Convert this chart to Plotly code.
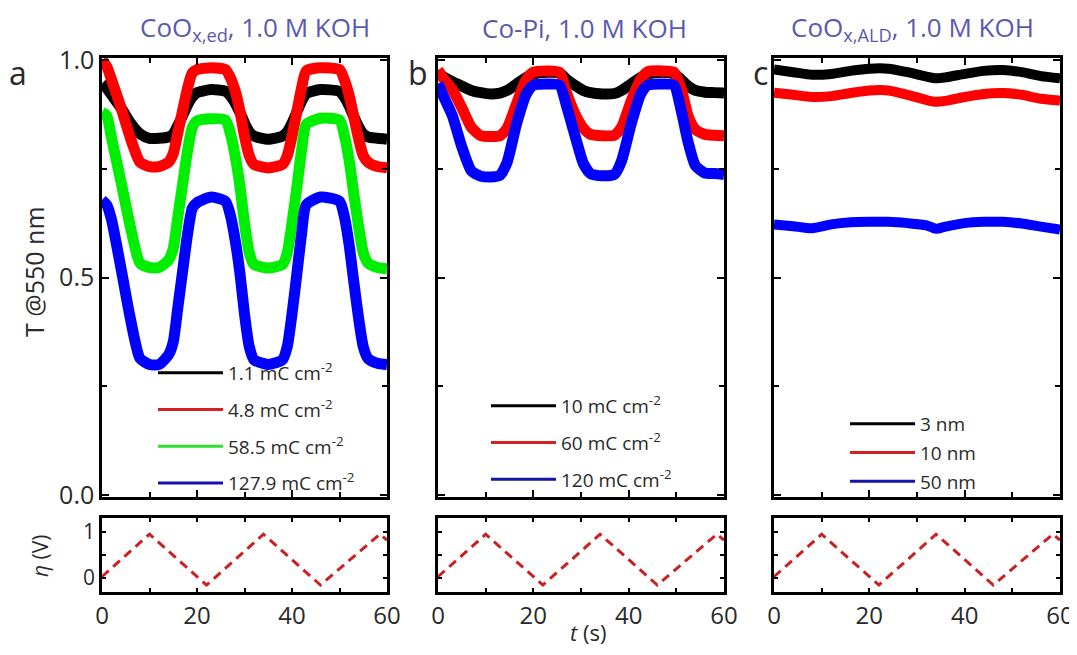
import plotly.graph_objects as go

# ---------------- data ----------------
# Panel a : CoOx,ed
t_a = [0, 1, 2, 4, 6, 8, 10, 12, 14, 15, 16, 17, 18, 19, 20, 23, 26, 27, 28, 29, 30,
       31, 32, 35, 38, 39, 40, 41, 42, 43, 46, 50, 51, 52, 53, 54, 55, 56, 58, 60]
a_1p1 = [0.946, 0.935, 0.92, 0.89, 0.855, 0.83, 0.82, 0.82, 0.823, 0.83, 0.85, 0.873, 0.897,
         0.915, 0.925, 0.932, 0.928, 0.918, 0.902, 0.88, 0.855, 0.835, 0.825, 0.818, 0.825,
         0.835, 0.855, 0.88, 0.905, 0.923, 0.932, 0.928, 0.915, 0.895, 0.87, 0.847, 0.83,
         0.823, 0.82, 0.818]
a_4p8 = [1.0, 0.985, 0.955, 0.89, 0.82, 0.765, 0.755, 0.755, 0.765, 0.785, 0.835, 0.885,
         0.935, 0.97, 0.978, 0.982, 0.978, 0.96, 0.93, 0.885, 0.825, 0.78, 0.76, 0.752, 0.76,
         0.78, 0.825, 0.88, 0.935, 0.975, 0.982, 0.978, 0.955, 0.92, 0.87, 0.82, 0.78, 0.765,
         0.755, 0.752]
a_58p5 = [0.88, 0.872, 0.821, 0.72, 0.615, 0.533, 0.523, 0.523, 0.54, 0.567, 0.642, 0.716,
          0.791, 0.845, 0.86, 0.865, 0.862, 0.832, 0.781, 0.713, 0.625, 0.557, 0.53, 0.522,
          0.53, 0.557, 0.625, 0.706, 0.791, 0.852, 0.866, 0.862, 0.828, 0.771, 0.693, 0.618,
          0.557, 0.533, 0.523, 0.52]
a_127p9 = [0.678, 0.667, 0.633, 0.521, 0.404, 0.314, 0.3, 0.3, 0.322, 0.352, 0.434, 0.517,
           0.599, 0.659, 0.672, 0.685, 0.675, 0.644, 0.588, 0.513, 0.416, 0.341, 0.311, 0.3,
           0.311, 0.341, 0.416, 0.506, 0.599, 0.667, 0.685, 0.675, 0.641, 0.577, 0.491, 0.408,
           0.341, 0.314, 0.303, 0.3]

# Panel b : Co-Pi
t_b = [0, 1, 3, 5, 7, 9, 11, 13, 14.5, 16.5, 18.5, 20, 23, 25.5, 27, 29, 30.5, 32, 34.5, 37,
       38.5, 40.5, 42.5, 44, 47, 49.5, 51, 52.5, 54, 56, 58, 60]
b_10 = [0.969, 0.962, 0.95, 0.94, 0.93, 0.925, 0.922, 0.924, 0.93, 0.945, 0.96, 0.968, 0.972,
        0.97, 0.955, 0.94, 0.93, 0.925, 0.922, 0.923, 0.93, 0.945, 0.96, 0.968, 0.972, 0.968,
        0.955, 0.94, 0.93, 0.926, 0.925, 0.924]
b_60 = [0.977, 0.96, 0.932, 0.89, 0.845, 0.826, 0.824, 0.826, 0.843, 0.9, 0.955, 0.972, 0.975,
        0.972, 0.923, 0.87, 0.843, 0.829, 0.826, 0.827, 0.845, 0.905, 0.955, 0.973, 0.975,
        0.972, 0.935, 0.87, 0.84, 0.829, 0.827, 0.826]
b_120 = [0.946, 0.92, 0.872, 0.8, 0.745, 0.733, 0.731, 0.735, 0.765, 0.854, 0.921, 0.942,
         0.945, 0.942, 0.893, 0.816, 0.762, 0.739, 0.734, 0.737, 0.768, 0.852, 0.921, 0.942,
         0.945, 0.942, 0.885, 0.81, 0.757, 0.74, 0.739, 0.737]

# Panel c : CoOx,ALD
t_c = [0, 4, 8, 12, 16, 20, 24, 28, 32, 34, 36, 40, 44, 48, 52, 56, 60]
c_3nm = [0.978, 0.972, 0.966, 0.968, 0.975, 0.98, 0.98, 0.972, 0.962, 0.958, 0.96, 0.968,
         0.975, 0.977, 0.972, 0.963, 0.958]
c_10nm = [0.925, 0.92, 0.915, 0.917, 0.924, 0.93, 0.93, 0.92, 0.908, 0.904, 0.906, 0.915,
          0.922, 0.924, 0.92, 0.911, 0.907]
c_50nm = [0.622, 0.618, 0.613, 0.622, 0.627, 0.628, 0.628, 0.625, 0.62, 0.612, 0.617, 0.625,
          0.628, 0.628, 0.624, 0.617, 0.61]

# Applied overpotential (triangle sweep)
t_eta = [0, 10, 22, 34, 46, 58.5, 60]
eta = [0.03, 0.95, -0.15, 0.95, -0.15, 0.95, 0.82]

names_a = ["1.1 mC cm<sup>-2</sup>", "4.8 mC cm<sup>-2</sup>",
           "58.5 mC cm<sup>-2</sup>", "127.9 mC cm<sup>-2</sup>"]
names_b = ["10 mC cm<sup>-2</sup>", "60 mC cm<sup>-2</sup>", "120 mC cm<sup>-2</sup>"]
names_c = ["3 nm", "10 nm", "50 nm"]
titles = ["CoO<sub>x,ed</sub>, 1.0 M KOH", "Co-Pi, 1.0 M KOH", "CoO<sub>x,ALD</sub>, 1.0 M KOH"]
x_ticks = [0, 20, 40, 60]

# ---------------- style ----------------
OFF = 8  # page body margin
W, H = 1077 - OFF, 655 - 2 * OFF
FONT = "Open Sans"
TXT = "#2a2a2a"
TITLE_COL = "#5a5ab0"
BAND_COLORS = {"k": "#000000", "r": "#ff0000", "g": "#00ee00", "b": "#0000ff"}
LEG_COLORS = {"k": "#000000", "r": "#d42020", "g": "#30dd30", "b": "#1414a8"}

def px(x):
    return (x - OFF) / W

def py(y):
    return 1 - (y - OFF) / H

fig = go.Figure()

panels = [
    (t_a, [a_1p1, a_4p8, a_58p5, a_127p9], names_a, ["k", "r", "g", "b"], 11, "legend"),
    (t_b, [b_10, b_60, b_120], names_b, ["k", "r", "b"], 11, "legend2"),
    (t_c, [c_3nm, c_10nm, c_50nm], names_c, ["k", "r", "b"], 10, "legend3"),
]

for i, (tt, series, names, cols, lw, leg) in enumerate(panels):
    ax = "" if i == 0 else str(i + 1)
    for ys, nm, c in zip(series, names, cols):
        fig.add_trace(go.Scatter(x=tt, y=ys, mode="lines", showlegend=False,
                                 line=dict(color=BAND_COLORS[c], width=lw, shape="spline",
                                           smoothing=0.6),
                                 xaxis="x" + ax, yaxis="y" + ax, hoverinfo="skip"))
    for k, (nm, c) in enumerate(zip(names, cols)):
        fig.add_trace(go.Scatter(x=[None], y=[None], mode="lines", name=nm,
                                 legend=leg, legendgroup=f"{leg}_{k}",
                                 line=dict(color=LEG_COLORS[c], width=3),
                                 xaxis="x" + ax, yaxis="y" + ax))
    # eta panel
    axb = str(i + 4)
    fig.add_trace(go.Scatter(x=t_eta, y=eta, mode="lines", showlegend=False,
                             line=dict(color="#cc2020", width=3, dash="9px,6px"),
                             xaxis="x" + axb, yaxis="y" + axb, hoverinfo="skip"))

x_domains = [[px(102), px(387)], [px(438), px(724)], [px(774), px(1060)]]
main_y = [py(497), py(58)]
bot_y = [py(592), py(518)]

common = dict(showline=True, linecolor="black", linewidth=2.5, mirror="ticks",
              ticks="inside", tickcolor="black", tickwidth=2, ticklen=7,
              showgrid=False, zeroline=False, automargin=False,
              tickfont=dict(family=FONT, size=24, color=TXT))

layout = dict(width=W, height=H, margin=dict(l=0, r=0, t=0, b=0, autoexpand=False),
              paper_bgcolor="white", plot_bgcolor="white",
              font=dict(family=FONT, color=TXT))

for i in range(3):
    ax = "" if i == 0 else str(i + 1)
    axb = str(i + 4)
    layout["xaxis" + ax] = dict(common, domain=x_domains[i], range=[0, 60], dtick=20, tick0=0,
                                showticklabels=False, anchor="y" + ax,
                                minor=dict(ticks="inside", ticklen=5, dtick=10, tickwidth=1.5,
                                           tickcolor="black", showgrid=False))
    layout["yaxis" + ax] = dict(common, domain=main_y, range=[-0.0046, 1.0046], dtick=0.5,
                                tick0=0, tickformat=".1f", showticklabels=(i == 0),
                                anchor="x" + ax, tickfont=dict(family=FONT, size=25, color=TXT),
                                minor=dict(ticks="inside", ticklen=5, dtick=0.25, tickwidth=1.5,
                                           tickcolor="black", showgrid=False))
    layout["xaxis" + axb] = dict(common, domain=x_domains[i], range=[0, 60],
                                 tickvals=x_ticks, ticktext=[str(v) for v in x_ticks],
                                 anchor="y" + axb, ticklen=4,
                                 minor=dict(ticks="inside", ticklen=4, tickvals=[10, 30, 50],
                                            tickwidth=1.5, tickcolor="black", showgrid=False))
    layout["yaxis" + axb] = dict(common, domain=bot_y, range=[-0.30, 1.30],
                                 tickvals=[0, 1], ticktext=["0", "1"], ticklen=4,
                                 showticklabels=(i == 0), anchor="x" + axb,
                                 tickfont=dict(family=FONT, size=21, color=TXT),
                                 minor=dict(ticks="inside", ticklen=4, tickvals=[0.5],
                                            tickwidth=1.5, tickcolor="black", showgrid=False))

leg_common = dict(bgcolor="rgba(0,0,0,0)", borderwidth=0, xanchor="left", yanchor="top",
                  traceorder="grouped", itemwidth=65,
                  font=dict(family=FONT, size=19, color=TXT))
layout["legend"] = dict(leg_common, x=px(153), y=py(354), tracegroupgap=9)
layout["legend2"] = dict(leg_common, x=px(486), y=py(387), tracegroupgap=9)
layout["legend3"] = dict(leg_common, x=px(845), y=py(405), tracegroupgap=1)

ann = []
title_x = [255, 584, 912]
for tx, tl in zip(title_x, titles):
    ann.append(dict(text=tl, x=px(tx), y=py(28), xref="paper", yref="paper",
                    xanchor="center", yanchor="middle",
                    showarrow=False, font=dict(family=FONT, size=26, color=TITLE_COL)))
for lx, lt in zip([18, 418, 760], ["a", "b", "c"]):
    ann.append(dict(text=lt, x=px(lx), y=py(72), xref="paper", yref="paper",
                    xanchor="center", yanchor="middle",
                    showarrow=False, font=dict(family=FONT, size=32, color=TXT)))
ann.append(dict(text="T @550 nm", x=px(34), y=py(272), xref="paper", yref="paper",
                xanchor="center", yanchor="middle",
                textangle=-90, showarrow=False, font=dict(family=FONT, size=25, color=TXT)))
ann.append(dict(text="<i>η</i> (V)", x=px(40), y=py(556), xref="paper", yref="paper",
                xanchor="center", yanchor="middle",
                textangle=-90, showarrow=False, font=dict(family=FONT, size=21, color=TXT)))
ann.append(dict(text="<i>t</i> (s)", x=px(588), y=py(632), xref="paper", yref="paper",
                xanchor="center", yanchor="middle",
                showarrow=False, font=dict(family=FONT, size=22, color=TXT)))
layout["annotations"] = ann

fig.update_layout(**layout)
fig.write_html("out.html")
